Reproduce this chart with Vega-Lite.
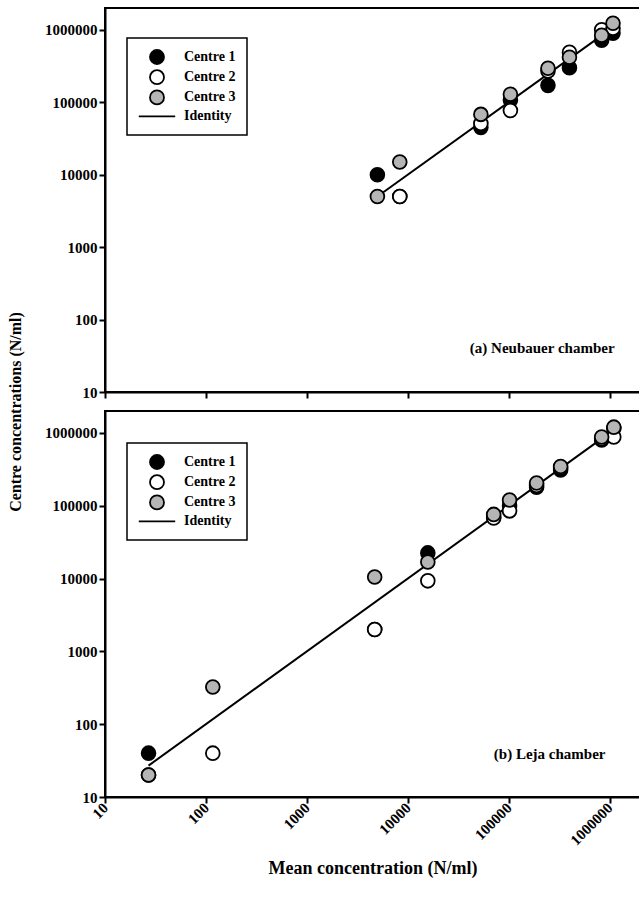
{
  "$schema": "https://vega.github.io/schema/vega-lite/v6.json",
  "background": "white",
  "padding": {"left": 6, "top": 7, "right": 0, "bottom": 0},
  "bounds": "flush",
  "spacing": 19,
  "config": {
    "font": "Liberation Serif",
    "view": {"stroke": "black", "strokeWidth": 2},
    "axis": {
      "grid": false, "domainColor": "black", "domainWidth": 2,
      "tickColor": "black", "tickWidth": 2, "tickSize": 6,
      "labelFont": "Liberation Serif", "labelFontWeight": "bold", "labelFontSize": 15, "labelColor": "black",
      "titleFont": "Liberation Serif", "titleFontWeight": "bold", "titleFontSize": 16, "titleColor": "black"
    },
    "legend": {
      "strokeColor": "black", "strokeWidth": 1.5, "padding": 11,
      "symbolOffset": 11, "labelOffset": 19, "rowPadding": -1.8,
      "labelFont": "Liberation Serif", "labelFontWeight": "bold", "labelFontSize": 14, "labelColor": "black",
      "symbolSize": 196, "symbolStrokeColor": "black", "symbolStrokeWidth": 1.8
    }
  },
  "datasets": {
    "ptsA": [
      {"mean": 5000, "value": 10000, "centre": "Centre 1"},
      {"mean": 8333, "value": 5000, "centre": "Centre 1"},
      {"mean": 53000, "value": 45000, "centre": "Centre 1"},
      {"mean": 104000, "value": 107000, "centre": "Centre 1"},
      {"mean": 245000, "value": 171000, "centre": "Centre 1"},
      {"mean": 400000, "value": 300000, "centre": "Centre 1"},
      {"mean": 834000, "value": 720000, "centre": "Centre 1"},
      {"mean": 1080000, "value": 900000, "centre": "Centre 1"},
      {"mean": 8333, "value": 5000, "centre": "Centre 2"},
      {"mean": 53000, "value": 51000, "centre": "Centre 2"},
      {"mean": 104000, "value": 77000, "centre": "Centre 2"},
      {"mean": 245000, "value": 270000, "centre": "Centre 2"},
      {"mean": 400000, "value": 490000, "centre": "Centre 2"},
      {"mean": 834000, "value": 1000000, "centre": "Centre 2"},
      {"mean": 1080000, "value": 1050000, "centre": "Centre 2"},
      {"mean": 5000, "value": 5000, "centre": "Centre 3"},
      {"mean": 8333, "value": 15000, "centre": "Centre 3"},
      {"mean": 53000, "value": 68000, "centre": "Centre 3"},
      {"mean": 104000, "value": 129000, "centre": "Centre 3"},
      {"mean": 245000, "value": 294000, "centre": "Centre 3"},
      {"mean": 400000, "value": 418000, "centre": "Centre 3"},
      {"mean": 834000, "value": 840000, "centre": "Centre 3"},
      {"mean": 1080000, "value": 1230000, "centre": "Centre 3"}
    ],
    "lineA": [{"x": 5000, "y": 5000}, {"x": 1080000, "y": 1080000}],
    "labA": [{"x": 1120000, "y": 40, "label": "(a) Neubauer chamber"}],
    "ptsB": [
      {"mean": 27, "value": 40, "centre": "Centre 1"},
      {"mean": 4700, "value": 2000, "centre": "Centre 1"},
      {"mean": 15800, "value": 22500, "centre": "Centre 1"},
      {"mean": 71000, "value": 70000, "centre": "Centre 1"},
      {"mean": 102000, "value": 100000, "centre": "Centre 1"},
      {"mean": 189000, "value": 180000, "centre": "Centre 1"},
      {"mean": 327000, "value": 310000, "centre": "Centre 1"},
      {"mean": 834000, "value": 800000, "centre": "Centre 1"},
      {"mean": 1100000, "value": 1150000, "centre": "Centre 1"},
      {"mean": 27, "value": 20, "centre": "Centre 2"},
      {"mean": 117, "value": 40, "centre": "Centre 2"},
      {"mean": 4700, "value": 2000, "centre": "Centre 2"},
      {"mean": 15800, "value": 9300, "centre": "Centre 2"},
      {"mean": 71000, "value": 68000, "centre": "Centre 2"},
      {"mean": 102000, "value": 85000, "centre": "Centre 2"},
      {"mean": 189000, "value": 190000, "centre": "Centre 2"},
      {"mean": 327000, "value": 330000, "centre": "Centre 2"},
      {"mean": 834000, "value": 830000, "centre": "Centre 2"},
      {"mean": 1100000, "value": 880000, "centre": "Centre 2"},
      {"mean": 27, "value": 20, "centre": "Centre 3"},
      {"mean": 117, "value": 324, "centre": "Centre 3"},
      {"mean": 4700, "value": 10500, "centre": "Centre 3"},
      {"mean": 15800, "value": 16900, "centre": "Centre 3"},
      {"mean": 71000, "value": 76000, "centre": "Centre 3"},
      {"mean": 102000, "value": 120000, "centre": "Centre 3"},
      {"mean": 189000, "value": 205000, "centre": "Centre 3"},
      {"mean": 327000, "value": 345000, "centre": "Centre 3"},
      {"mean": 834000, "value": 880000, "centre": "Centre 3"},
      {"mean": 1100000, "value": 1200000, "centre": "Centre 3"}
    ],
    "lineB": [{"x": 27, "y": 27}, {"x": 1100000, "y": 1100000}],
    "labB": [{"x": 910000, "y": 39, "label": "(b) Leja chamber"}]
  },
  "resolve": {
    "scale": {"fill": "independent", "shape": "independent", "stroke": "independent"},
    "legend": {"fill": "independent", "shape": "independent", "stroke": "independent"}
  },
  "vconcat": [
    {
      "width": 535,
      "height": 384,
      "layer": [
        {
          "data": {"name": "lineA"},
          "mark": {"type": "line", "color": "black", "strokeWidth": 2},
          "encoding": {
            "x": {"field": "x", "type": "quantitative", "scale": {"type": "log", "domain": [10, 2000000], "nice": false},
                  "axis": {"values": [10, 100, 1000, 10000, 100000, 1000000], "labels": false, "title": null}},
            "y": {"field": "y", "type": "quantitative", "scale": {"type": "log", "domain": [10, 2000000], "nice": false},
                  "axis": {"values": [10, 100, 1000, 10000, 100000, 1000000], "format": "d",
                           "title": "Centre concentrations (N/ml)", "titleX": -90, "titleY": 403.5,
                           "titleBaseline": "middle", "titleAlign": "center", "titleAngle": -90}}
          }
        },
        {
          "data": {"name": "ptsA"},
          "mark": {"type": "point", "filled": true, "size": 190, "strokeWidth": 1.8, "opacity": 1},
          "encoding": {
            "x": {"field": "mean", "type": "quantitative"},
            "y": {"field": "value", "type": "quantitative"},
            "fill": {"field": "centre", "type": "nominal",
                     "scale": {"domain": ["Centre 1", "Centre 2", "Centre 3", "Identity"], "range": ["black", "white", "#b5b5b5", "black"]},
                     "legend": {"title": null, "orient": "none", "legendX": 22, "legendY": 30}},
            "stroke": {"field": "centre", "type": "nominal",
                       "scale": {"domain": ["Centre 1", "Centre 2", "Centre 3", "Identity"], "range": ["black", "black", "black", "black"]},
                       "legend": {"title": null, "orient": "none", "legendX": 22, "legendY": 30}},
            "shape": {"field": "centre", "type": "nominal",
                      "scale": {"domain": ["Centre 1", "Centre 2", "Centre 3", "Identity"], "range": ["circle", "circle", "circle", "M-2.6,0L2.6,0"]},
                      "legend": {"title": null, "orient": "none", "legendX": 22, "legendY": 30}}
          }
        },
        {
          "data": {"name": "labA"},
          "mark": {"type": "text", "align": "right", "baseline": "middle", "font": "Liberation Serif", "fontWeight": "bold", "fontSize": 15, "color": "black"},
          "encoding": {
            "x": {"field": "x", "type": "quantitative"},
            "y": {"field": "y", "type": "quantitative"},
            "text": {"field": "label"}
          }
        }
      ]
    },
    {
      "width": 535,
      "height": 386,
      "layer": [
        {
          "data": {"name": "lineB"},
          "mark": {"type": "line", "color": "black", "strokeWidth": 2},
          "encoding": {
            "x": {"field": "x", "type": "quantitative", "scale": {"type": "log", "domain": [10, 2000000], "nice": false},
                  "axis": {"values": [10, 100, 1000, 10000, 100000, 1000000], "format": "d",
                           "labelAngle": -45, "labelAlign": "right", "labelBaseline": "middle",
                           "title": "Mean concentration (N/ml)", "titleY": 71, "titleBaseline": "middle", "titleFontSize": 18}},
            "y": {"field": "y", "type": "quantitative", "scale": {"type": "log", "domain": [10, 2000000], "nice": false},
                  "axis": {"values": [10, 100, 1000, 10000, 100000, 1000000], "format": "d", "title": null}}
          }
        },
        {
          "data": {"name": "ptsB"},
          "mark": {"type": "point", "filled": true, "size": 190, "strokeWidth": 1.8, "opacity": 1},
          "encoding": {
            "x": {"field": "mean", "type": "quantitative"},
            "y": {"field": "value", "type": "quantitative"},
            "fill": {"field": "centre", "type": "nominal",
                     "scale": {"domain": ["Centre 1", "Centre 2", "Centre 3", "Identity"], "range": ["black", "white", "#b5b5b5", "black"]},
                     "legend": {"title": null, "orient": "none", "legendX": 22, "legendY": 32}},
            "stroke": {"field": "centre", "type": "nominal",
                       "scale": {"domain": ["Centre 1", "Centre 2", "Centre 3", "Identity"], "range": ["black", "black", "black", "black"]},
                       "legend": {"title": null, "orient": "none", "legendX": 22, "legendY": 32}},
            "shape": {"field": "centre", "type": "nominal",
                      "scale": {"domain": ["Centre 1", "Centre 2", "Centre 3", "Identity"], "range": ["circle", "circle", "circle", "M-2.6,0L2.6,0"]},
                      "legend": {"title": null, "orient": "none", "legendX": 22, "legendY": 32}}
          }
        },
        {
          "data": {"name": "labB"},
          "mark": {"type": "text", "align": "right", "baseline": "middle", "font": "Liberation Serif", "fontWeight": "bold", "fontSize": 15, "color": "black"},
          "encoding": {
            "x": {"field": "x", "type": "quantitative"},
            "y": {"field": "y", "type": "quantitative"},
            "text": {"field": "label"}
          }
        }
      ]
    }
  ]
}
